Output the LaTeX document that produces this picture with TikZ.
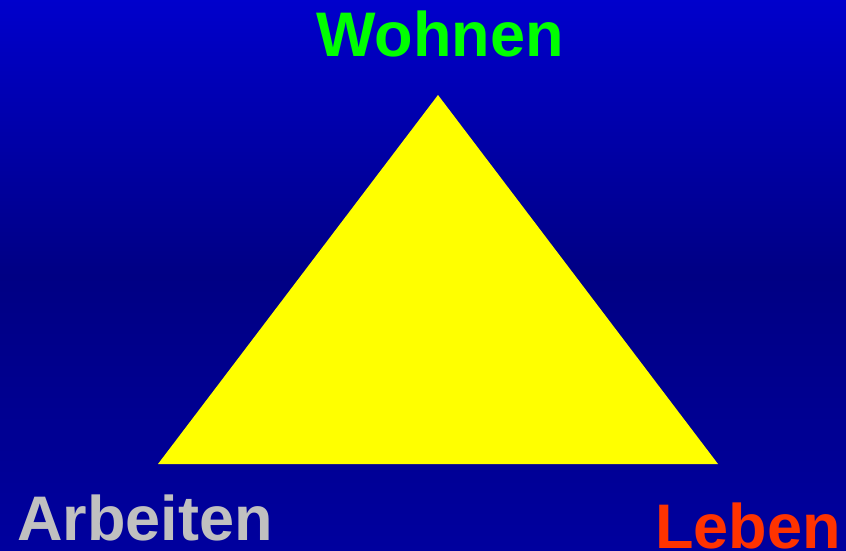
\documentclass[tikz,border=0pt]{standalone}
\usepackage{fontspec}
\setmainfont{Liberation Sans}
\usepackage{xcolor}
\usetikzlibrary{positioning}
\definecolor{skytop}{HTML}{0000CC}
\definecolor{skymid}{HTML}{000084}
\definecolor{skybot}{HTML}{00009E}
\definecolor{triyellow}{HTML}{FFFF00}
\definecolor{wohngreen}{HTML}{00FF00}
\definecolor{arbgray}{HTML}{C0C0C0}
\definecolor{lebred}{HTML}{FF3300}
\begin{document}
\begin{tikzpicture}[x=1pt, y=-1pt, every node/.style={font=\fontsize{63}{63}\selectfont\bfseries, inner sep=0pt}]
\useasboundingbox (0,0) rectangle (846,551);
\shade[top color=skytop, bottom color=skybot, middle color=skymid] (0,0) rectangle (846,551);
\coordinate (top) at (438,95);
\coordinate (left) at (158,464);
\coordinate (right) at (718,464);
\fill[triyellow] (top) -- (left) -- (right) -- cycle;
\node[anchor=base, text=wohngreen] (wohnen) at (440,57) {Wohnen};
\node[anchor=base west, text=arbgray] (arbeiten) at (17,540) {Arbeiten};
\node[anchor=base west, text=lebred] (leben) at (655,548) {Leben};
\end{tikzpicture}
\end{document}
